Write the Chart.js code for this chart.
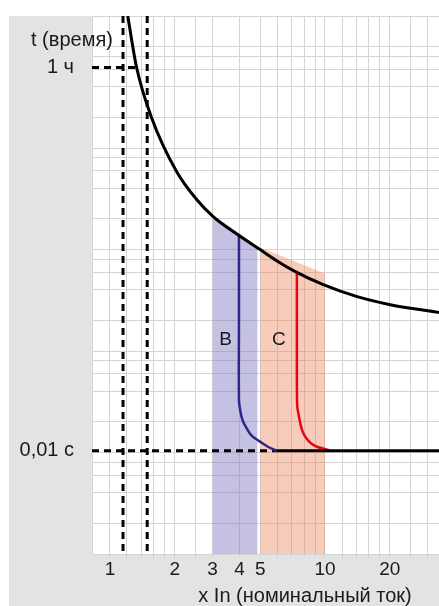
<!DOCTYPE html>
<html>
<head>
<meta charset="utf-8">
<script src="https://cdn.jsdelivr.net/npm/chart.js@4.4.1/dist/chart.umd.min.js"></script>
<style>
  html, body { margin: 0; padding: 0; background: #fff; }
  canvas { display: block; }
</style>
</head>
<body>
<canvas id="tripCurve" width="439" height="606"></canvas>
<script>
// thermal release curve, multiples of In vs time (log-log, schematic units)
const curveX = [1.21, 1.33, 1.56, 2.04, 2.53, 3.02, 3.89, 4.99, 5.96, 7.39, 9.82, 14.0, 20.1, 33.9];
const curveT = [200, 62.2, 20.0, 5.87, 3.11, 2.11, 1.42, 0.998, 0.777, 0.596, 0.451, 0.345, 0.286, 0.240];

// magnetic release, type B and type C
const typeBX = [3.98, 3.98, 3.98, 4.03, 4.13, 4.32, 4.57, 4.99, 5.43, 5.96];
const typeBT = [1.38, 0.2, 0.033, 0.0264, 0.021, 0.0174, 0.0146, 0.0128, 0.0114, 0.0104];
const typeCX = [7.4, 7.4, 7.42, 7.51, 7.93, 8.82, 10.5];
const typeCT = [0.595, 0.1, 0.03, 0.0245, 0.0155, 0.0119, 0.0105];

// shaded ranges (3..5 In for B, 5..10 In for C)
const bandBX = [3.0, 4.86];
const bandBT = [2.2, 1.08];
const bandCX = [5.0, 10.0];
const bandCT = [1.05, 0.58];

const hourT = 62.2;      // "1 ч" level
const instT = 0.0104;    // "0,01 с" level
const guideX = [1.15, 1.49];

const xGrid = [1, 1.2, 1.4, 1.6, 1.8, 2, 2.5, 3, 4, 5, 6, 7, 8, 9, 10, 12, 14, 16, 18, 20, 25, 30];
const xLabels = [1, 2, 3, 4, 5, 10, 20];
const yGrid = [0.001, 0.002, 0.004, 0.006, 0.008, 0.01, 0.02, 0.04, 0.06, 0.08,
  0.1, 0.2, 0.4, 0.6, 0.8, 1, 2, 4, 6, 8, 10, 20, 40, 60, 80, 100, 200];
const yLabels = { [hourT]: '1 ч', [instT]: '0,01 с' };

const X_MIN = 0.825, X_MAX = 33.9, Y_MIN = 0.001, Y_MAX = 200;
const GRID = '#d4d4d4';
const TEXT = '#1a1a1a';
const FONT = '"Liberation Sans", Arial, sans-serif';

const pts = (xs, ys) => xs.map((x, i) => ({ x: x, y: ys[i] }));

const backdrop = {
  id: 'backdrop',
  beforeDraw(chart) {
    const { ctx, chartArea: a } = chart;
    ctx.save();
    ctx.fillStyle = '#e3e3e3';
    ctx.fillRect(9, 16, chart.width - 9, chart.height - 16);
    ctx.fillStyle = '#fff';
    ctx.fillRect(a.left, a.top, a.right - a.left, a.bottom - a.top);
    ctx.restore();
  },
  afterDraw(chart) {
    const { ctx, scales: { x, y } } = chart;
    ctx.save();
    ctx.fillStyle = TEXT;
    ctx.textBaseline = 'middle';
    ctx.font = '20px ' + FONT;
    ctx.textAlign = 'left';
    ctx.fillText('t (время)', 31, 40);
    ctx.textAlign = 'center';
    ctx.fillText('x In (номинальный ток)', 305, 596);
    ctx.font = '19px ' + FONT;
    ctx.fillText('B', x.getPixelForValue(3.45), y.getPixelForValue(0.129));
    ctx.fillText('C', x.getPixelForValue(6.11), y.getPixelForValue(0.129));
    ctx.restore();
  }
};

const dashed = { borderColor: '#000', borderWidth: 3, borderDash: [7, 5], pointRadius: 0, fill: false };

new Chart(document.getElementById('tripCurve'), {
  type: 'line',
  data: {
    datasets: [
      { data: pts([5.96, X_MAX], [instT, instT]), borderColor: '#000', borderWidth: 3, pointRadius: 0 },
      { data: pts(curveX, curveT), borderColor: '#000', borderWidth: 3, pointRadius: 0, cubicInterpolationMode: 'monotone' },
      { data: pts(typeBX, typeBT), borderColor: '#2b2889', borderWidth: 2.5, pointRadius: 0, tension: 0.35 },
      { data: pts(typeCX, typeCT), borderColor: '#e30613', borderWidth: 2.5, pointRadius: 0, tension: 0.35 },
      { ...dashed, data: pts([X_MIN, 1.33], [hourT, hourT]) },
      { ...dashed, data: pts([X_MIN, 5.96], [instT, instT]) },
      { ...dashed, data: pts([guideX[0], guideX[0]], [Y_MAX, Y_MIN]) },
      { ...dashed, data: pts([guideX[1], guideX[1]], [Y_MAX, Y_MIN]) },
      { data: pts(bandCX, bandCT), borderWidth: 0, pointRadius: 0, fill: 'start', backgroundColor: 'rgba(237,128,83,0.4)' },
      { data: pts(bandBX, bandBT), borderWidth: 0, pointRadius: 0, fill: 'start', backgroundColor: 'rgba(124,117,191,0.45)' }
    ]
  },
  options: {
    responsive: false,
    devicePixelRatio: 1,
    animation: false,
    events: [],
    layout: { padding: { left: 9, top: 16, right: 0, bottom: 0 } },
    plugins: { legend: { display: false }, tooltip: { enabled: false } },
    scales: {
      x: {
        type: 'logarithmic',
        min: X_MIN,
        max: X_MAX,
        afterBuildTicks: (scale) => { scale.ticks = xGrid.map(v => ({ value: v })); },
        afterFit: (scale) => { scale.height = 52; scale.paddingLeft = 0; scale.paddingRight = 0; },
        grid: { color: GRID, tickLength: 4 },
        border: { color: GRID },
        ticks: {
          autoSkip: false,
          maxRotation: 0,
          padding: 0,
          color: TEXT,
          font: { family: FONT, size: 19 },
          callback: (v) => xLabels.includes(v) ? String(v) : ''
        }
      },
      y: {
        type: 'logarithmic',
        min: Y_MIN,
        max: Y_MAX,
        afterBuildTicks: (scale) => {
          scale.ticks = yGrid.concat([hourT, instT]).map(v => ({ value: v }));
        },
        afterFit: (scale) => { scale.width = 83; scale.paddingTop = 0; scale.paddingBottom = 0; },
        grid: {
          drawTicks: false,
          color: (c) => (c.tick && yLabels[c.tick.value]) ? 'rgba(0,0,0,0)' : GRID
        },
        border: { color: GRID },
        ticks: {
          autoSkip: false,
          padding: 18,
          color: TEXT,
          font: { family: FONT, size: 20 },
          callback: (v) => yLabels[v] || ''
        }
      }
    }
  },
  plugins: [backdrop]
});
</script>
</body>
</html>
